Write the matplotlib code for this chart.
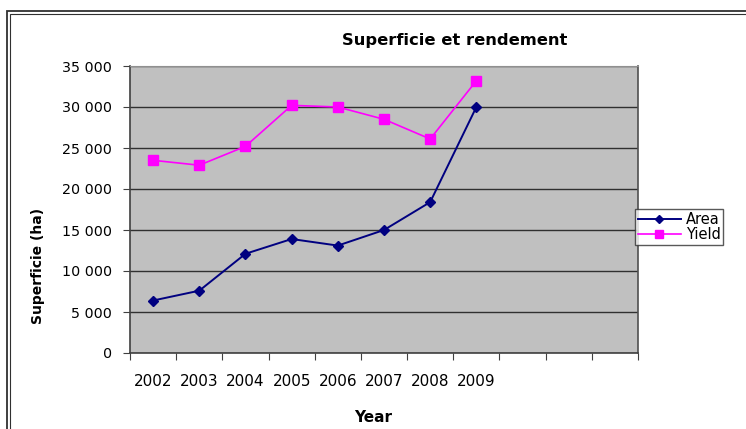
import matplotlib
matplotlib.use("Agg")
import matplotlib.pyplot as plt
from matplotlib.patches import Rectangle
from matplotlib.ticker import FuncFormatter

# data
years = ["2002", "2003", "2004", "2005", "2006", "2007", "2008", "2009"]
area = [6400, 7600, 12100, 13900, 13100, 15000, 18400, 30000]
yield_ = [23500, 22900, 25200, 30200, 30000, 28500, 26100, 33200]
n_slots = 11  # category slots on the x axis (only 8 filled)

W, H = 746, 429
fig = plt.figure(figsize=(W / 100, H / 100), dpi=100)
fig.patch.set_facecolor("white")

# outer chart frame (double line, only top/left inside the picture)
for left, top, lw in ((7, 11, 1.3), (10, 14, 0.8)):
    fig.add_artist(Rectangle((left / W, -0.1), 1.2, 1.1 - top / H,
                             transform=fig.transFigure, fill=False,
                             edgecolor="#303030", linewidth=lw))

ax = fig.add_axes([130 / W, 1 - 353 / H, (638 - 130) / W, (353 - 66) / H])
ax.set_facecolor("#C0C0C0")

x = [i + 0.5 for i in range(len(years))]
ax.plot(x, area, color="#000080", marker="D", markersize=5, linewidth=1.4,
        label="Area")
ax.plot(x, yield_, color="#FF00FF", marker="s", markersize=7, linewidth=1.2,
        label="Yield")

ax.set_xlim(0, n_slots)
ax.set_ylim(0, 35000)
ax.set_yticks(range(0, 35001, 5000))
ax.yaxis.set_major_formatter(FuncFormatter(lambda v, p: f"{int(v):,}".replace(",", " ")))
ax.grid(axis="y", color="#303030", linewidth=1)
ax.set_axisbelow(True)

ax.set_xticks(range(n_slots + 1))
ax.set_xticklabels([])
ax.set_xticks(x, minor=True)
ax.set_xticklabels(years, minor=True)
ax.tick_params(axis="x", which="major", length=5, color="#404040")
ax.tick_params(axis="x", which="minor", length=0, pad=15, labelsize=11)
ax.tick_params(axis="y", length=5, color="#404040", pad=8, labelsize=10.3)

for side in ("left", "bottom"):
    ax.spines[side].set_color("#404040")
    ax.spines[side].set_linewidth(1.2)
ax.spines["right"].set_color("#505050")
ax.spines["right"].set_linewidth(1.2)
ax.spines["top"].set_color("#909090")

fig.text(455 / W, 1 - 40 / H, "Superficie et rendement", ha="center", va="center",
         fontsize=11.8, fontweight="bold")
fig.text(373 / W, 1 - 418 / H, "Year", ha="center", va="center",
         fontsize=11, fontweight="bold")
fig.text(38 / W, 1 - 266 / H, "Superficie (ha)", ha="center", va="center",
         rotation=90, fontsize=10, fontweight="bold")

leg = fig.legend(loc="center", bbox_to_anchor=(679 / W, 1 - 227 / H), fontsize=10.5,
                 frameon=True, fancybox=False, edgecolor="#303030",
                 borderpad=0.2, labelspacing=0.0, handlelength=3.0,
                 handletextpad=0.3, borderaxespad=0, markerscale=0.85)
leg.get_frame().set_linewidth(1)

fig.savefig("out.png", dpi=100)
